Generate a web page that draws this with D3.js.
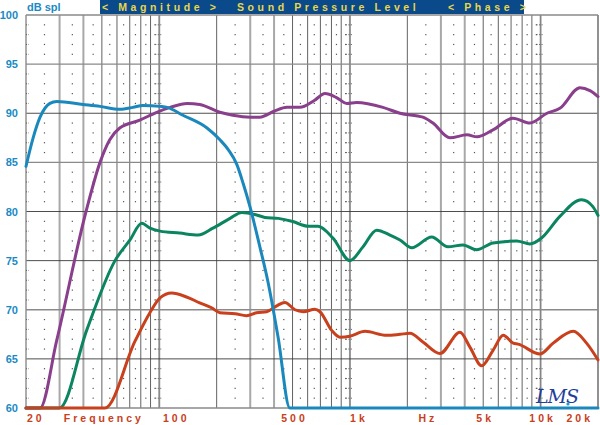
<!DOCTYPE html>
<html>
<head>
<meta charset="utf-8">
<script src="https://cdn.jsdelivr.net/npm/d3@7/dist/d3.min.js"></script>
<style>
  body { margin: 0; background: #fff; }
  svg text { font-family: "Liberation Sans", Arial, sans-serif; font-weight: bold; }
</style>
</head>
<body>
<div id="chart"></div>
<script>
var wid = 600,
	heig = 425;

// measured curves, [Hz, dB spl]
var blueCurve = [[20,84.6],[21.8,87.5],[23.7,89.6],[26.7,91.0],[29,91.2],[39.8,90.9],[48.9,90.7],
	[62.2,90.4],[72.8,90.6],[82,90.8],[101,90.7],[110,90.6],[133,89.8],[178,88.5],[208,87.3],
	[230,86.3],[255,84.8],[276,82.8],[299,80.5],[337,76.4],[372,72.8],[420,67.2],[484,60],[20000,60]];

var purpleCurve = [[20,60],[23.7,60],[29,66.9],[41.3,80],[48.9,85],[55,87.3],[62,88.5],[79,89.3],
	[97,90.1],[114,90.6],[140,91.0],[163,90.9],[208,90.1],[243,89.8],[300,89.6],[337,89.6],
	[400,90.2],[467,90.6],[547,90.6],[650,91.3],[740,92.0],[850,91.6],[962,91.0],[1084,91.1],
	[1490,90.6],[1830,90.0],[2414,89.6],[2725,89.0],[3345,87.5],[4111,87.8],[4635,87.6],
	[5624,88.3],[7160,89.5],[8795,89.0],[10800,90.0],[12620,90.5],[16080,92.6],[18150,92.3],[20000,91.7]];

var greenCurve = [[20,60],[30,60],[41.6,67.9],[58.6,75],[70.2,77.1],[80.9,78.8],[89.3,78.3],
	[100.9,78.0],[128,77.8],[160,77.6],[191,78.3],[235,79.3],[271,79.9],[317,79.7],[358,79.4],
	[422,79.3],[496,79.0],[607,78.5],[679,78.5],[814,77.3],[1000,75.0],[1170,76.4],[1380,78.1],
	[1622,77.6],[1830,77.1],[2108,76.3],[2683,77.4],[3266,76.4],[3915,76.6],[4618,76.1],
	[5624,76.8],[7483,77.0],[8795,76.7],[10120,77.3],[12620,79.5],[16400,81.2],[18800,80.5],[20000,79.6]];

var redCurve = [[20,60],[51.9,60],[74.6,66.8],[89.3,69.7],[100.9,71.2],[116,71.7],
	[139,71.3],[163,70.7],[188,70.2],[208,69.7],[250,69.6],[287,69.4],[324,69.7],[366,69.8],
	[413,70.4],[456,70.75],[515,70.0],[569,69.8],[655,70.05],[696,69.8],[802,67.9],[887,67.2],
	[1000,67.3],[1199,67.8],[1557,67.4],[1830,67.5],[2064,67.6],[2423,66.7],[2966,65.55],
	[3776,67.7],[4259,66.2],[4906,64.3],[5641,65.9],[6369,67.4],[7183,66.6],[7627,66.5],
	[9916,65.5],[11640,66.6],[14830,67.8],[17420,66.6],[20000,64.9]];

var yTicks = [60, 65, 70, 75, 80, 85, 90, 95, 100];
var xTickVals = [20, 100, 500, 1000, 5000, 10000, 20000];
var xTickText = ["20", "100", "500", "1k", "5k", "10k", "20k"];
var bannerText = ["< Magnitude >", "Sound Pressure Level", "< Phase >"];

var x = d3.scaleLog().domain([20, 20000]).range([26, 598]);
var y = d3.scaleLinear().domain([60, 100]).range([408, 15]);

var vis = d3.select("#chart").append("svg")
	.attr("width", wid)
	.attr("height", heig);

vis.append("rect").attr("width", wid).attr("height", heig).attr("fill", "#fff");

// grid: vertical lines at 2..10 x decade
var vLines = [];
[10, 100, 1000, 10000].forEach(function(d) {
	for (var m = 2; m <= 10; m++) {
		var f = d * m;
		if (f > 20 && f <= 20000) vLines.push({f: f, m: m});
	}
});
var halfLines = [];
[10, 100, 1000, 10000].forEach(function(d) {
	for (var m = 2; m < 10; m++) {
		var f = d * (m + 0.5);
		if (f > 20 && f < 20000) halfLines.push(f);
	}
});

var grid = vis.append("g").attr("class", "grid");

// lighter heavy lines first
grid.selectAll("line.vgray")
	.data(vLines.filter(function(d) { return d.m == 3 || d.m == 4 || d.m == 10; }))
	.enter().append("line")
	.attr("x1", function(d) { return x(d.f); })
	.attr("x2", function(d) { return x(d.f); })
	.attr("y1", y(100)).attr("y2", y(60))
	.attr("stroke", "#a8a8a8")
	.attr("stroke-width", 2);

grid.selectAll("line.vdark")
	.data(vLines.filter(function(d) { return !(d.m == 3 || d.m == 4); }))
	.enter().append("line")
	.attr("x1", function(d) { return x(d.f); })
	.attr("x2", function(d) { return x(d.f); })
	.attr("y1", y(100)).attr("y2", y(60))
	.attr("stroke", function(d) { return d.m == 10 ? "#777" : "#3a3a3a"; })
	.attr("stroke-width", 0.8);

grid.selectAll("line.h")
	.data(yTicks)
	.enter().append("line")
	.attr("x1", x(20)).attr("x2", x(20000))
	.attr("y1", function(d) { return y(d); })
	.attr("y2", function(d) { return y(d); })
	.attr("stroke", function(d) { return (d == 90 || d == 80 || d == 75 || d == 65) ? "#3a3a3a" : "#8a8a8a"; })
	.attr("stroke-width", function(d) { return (d == 90 || d == 80 || d == 75 || d == 65) ? 0.9 : 1.4; });

// left axis line
grid.append("line")
	.attr("x1", x(20)).attr("x2", x(20))
	.attr("y1", y(100)).attr("y2", y(60))
	.attr("stroke", "#8a8a8a").attr("stroke-width", 1.4);

// dB dots between lines
var dbSteps = d3.range(61, 100).filter(function(v) { return v % 5 != 0; });
var dots = [];
halfLines.forEach(function(f) { dbSteps.forEach(function(v) { dots.push([f, v]); }); });
grid.selectAll("rect.dot")
	.data(dots)
	.enter().append("rect")
	.attr("x", function(d) { return x(d[0]) - 0.6; })
	.attr("y", function(d) { return y(d[1]) - 0.6; })
	.attr("width", 1.2).attr("height", 1.2)
	.attr("fill", "#555");

// small ticks on left axis and decade lines
var tickPts = [];
[20, 100, 1000, 10000].forEach(function(f) { dbSteps.forEach(function(v) { tickPts.push([f, v]); }); });
grid.selectAll("line.tk")
	.data(tickPts)
	.enter().append("line")
	.attr("x1", function(d) { return x(d[0]) - (d[0] == 20 ? 0 : 4); })
	.attr("x2", function(d) { return x(d[0]) + 3; })
	.attr("y1", function(d) { return y(d[1]); })
	.attr("y2", function(d) { return y(d[1]); })
	.attr("stroke", "#555")
	.attr("stroke-width", 0.9)
	.attr("stroke-dasharray", "1,1.5");

// right border
grid.append("line")
	.attr("x1", x(20000)).attr("x2", x(20000))
	.attr("y1", y(100)).attr("y2", y(60))
	.attr("stroke", "#8a8a8a").attr("stroke-width", 1.6);

// curves
var line = d3.line()
	.x(function(d) { return x(d[0]); })
	.y(function(d) { return y(d[1]); })
	.curve(d3.curveMonotoneX);

var series = [
	{data: purpleCurve, color: "#8a3f8c"},
	{data: greenCurve, color: "#0b8560"},
	{data: redCurve, color: "#c8401c"},
	{data: blueCurve, color: "#1b88bd"}
];

vis.selectAll("path.curve")
	.data(series)
	.enter().append("path")
	.attr("class", "curve")
	.attr("d", function(d) { return line(d.data); })
	.attr("fill", "none")
	.attr("stroke", function(d) { return d.color; })
	.attr("stroke-width", 3)
	.attr("stroke-linejoin", "round")
	.attr("stroke-linecap", "round");

// y labels
vis.selectAll("text.ylab")
	.data(yTicks)
	.enter().append("text")
	.attr("x", 18)
	.attr("y", function(d) { return y(d) + 4; })
	.attr("text-anchor", "end")
	.attr("fill", "#1a8ac4")
	.style("font-size", "11px")
	.text(function(d) { return d; });

vis.append("text")
	.attr("x", 27).attr("y", 11)
	.attr("fill", "#1a8ac4")
	.style("font-size", "11px")
	.text("dB spl");

// x labels
var xLab = vis.append("g").attr("fill", "#c8401c")
	.style("font-size", "10.5px")
	.style("letter-spacing", "3px");

xLab.selectAll("text")
	.data(xTickVals)
	.enter().append("text")
	.attr("x", function(d, i) {
		if (d == 20) return x(d) + 1;
		if (d == 100) return x(d) + 17;
		if (d == 1000) return x(d) + 9;
		if (d == 20000) return x(d) - 5;
		return x(d) + 2;
	})
	.attr("y", 422)
	.attr("text-anchor", function(d) { return d == 20 ? "start" : d == 20000 ? "end" : "middle"; })
	.text(function(d, i) { return xTickText[i]; });

xLab.append("text").attr("x", x(50) + 2).attr("y", 422)
	.attr("text-anchor", "middle").text("Frequency");
xLab.append("text").attr("x", x(2500) + 2).attr("y", 422)
	.attr("text-anchor", "middle").text("Hz");

// banner
vis.append("rect")
	.attr("x", 100).attr("y", 0)
	.attr("width", 424).attr("height", 14)
	.attr("fill", "#0a4a8a");

var banner = vis.append("g")
	.attr("fill", "#e8d64c")
	.style("font-size", "10.5px")
	.style("letter-spacing", "3.6px")
	.style("white-space", "pre");
banner.append("text").attr("x", 102).attr("y", 11).text(bannerText[0]);
banner.append("text").attr("x", 237).attr("y", 11).text(bannerText[1]);
banner.append("text").attr("x", 448).attr("y", 11).text(bannerText[2]);

// LMS mark
vis.append("text")
	.attr("x", 536).attr("y", 403)
	.attr("fill", "#1f3f9c")
	.style("font-family", "'DejaVu Serif', serif")
	.style("font-style", "italic")
	.style("font-weight", "normal")
	.style("font-size", "19px")
	.style("letter-spacing", "-1px")
	.text("LMS");
vis.append("circle").attr("cx", 568).attr("cy", 404).attr("r", 1.6).attr("fill", "#1aa0d0");
</script>
</body>
</html>
